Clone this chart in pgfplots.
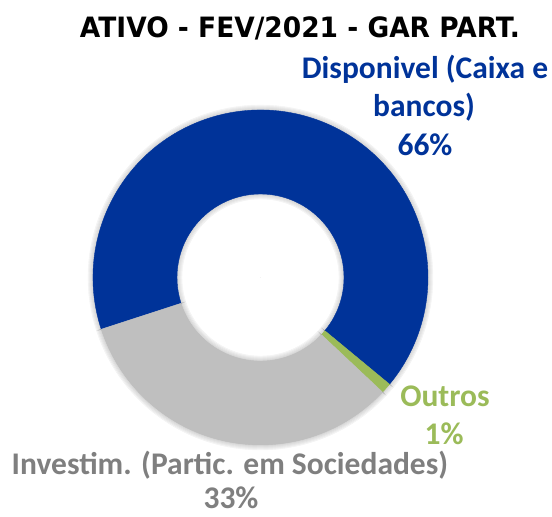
\documentclass[border=0pt]{standalone}
\usepackage{pgfplots}
\pgfplotsset{compat=1.18}
\usepackage{pgfplotstable}
\usepackage{fontspec}
\setmainfont{Carlito}
\newfontfamily\titlefont{DejaVu Sans}
\definecolor{cdisp}{RGB}{0,51,153}
\definecolor{coutros}{RGB}{155,187,89}
\definecolor{cinv}{RGB}{191,191,191}
\definecolor{tinv}{RGB}{127,127,127}

% slices in clockwise order, start = cumulative percent
\pgfplotstableread{
slice cx cy start val
0 260.5 239.5 0  66
1 260.5 239.5 66 1
2 260.5 239.5 67 33
}\ativo

\tikzset{lbl/.style={anchor=base, font=\bfseries\fontsize{31.5}{38}\selectfont}}

\begin{document}
\begin{tikzpicture}
\begin{axis}[
  width=552pt, height=517pt, scale only axis,
  xmin=0, xmax=552, ymin=0, ymax=517,
  hide axis, clip=false,
  colormap={ativo}{rgb255=(0,51,153) rgb255=(155,187,89) rgb255=(191,191,191)},
  point meta min=0, point meta max=2,
]
\path (axis cs:0,0) rectangle (axis cs:552,517);

\addplot[scatter, only marks, mark=*, mark size=0pt,
  point meta=\thisrow{slice},
  visualization depends on={\thisrow{start} \as \vstart},
  visualization depends on={\thisrow{val} \as \vval},
  scatter/@pre marker code/.code={%
    \pgfplotscolormapdefinemappedcolor{\pgfplotspointmetatransformed}%
    \pgfmathsetmacro\angA{198-3.6*\vstart}%
    \pgfmathsetmacro\angB{198-3.6*(\vstart+\vval)}%
    % soft shadow, outside and in the hole
    \foreach \k in {1,...,5} {%
      \pgfmathsetmacro\ro{167.5+\k}%
      \pgfmathsetmacro\ri{83.5-\k}%
      \fill[black, opacity=0.03] (\angA:\ro pt) arc[start angle=\angA, end angle=\angB, radius=\ro pt]
        -- (\angB:167pt) arc[start angle=\angB, end angle=\angA, radius=167pt] -- cycle;
      \fill[black, opacity=0.03] (\angA:84pt) arc[start angle=\angA, end angle=\angB, radius=84pt]
        -- (\angB:\ri pt) arc[start angle=\angB, end angle=\angA, radius=\ri pt] -- cycle;
    }%
    \fill[mapped color] (\angA:167.5pt) arc[start angle=\angA, end angle=\angB, radius=167.5pt]
      -- (\angB:83.5pt) arc[start angle=\angB, end angle=\angA, radius=83.5pt] -- cycle;
    \pgfscope
  },
  scatter/@post marker code/.code={\endpgfscope},
] table[x=cx, y=cy] {\ativo};

\node[anchor=base, font=\titlefont\bfseries\fontsize{28}{32}\selectfont] at (axis cs:300,479) {\scalebox{0.945}[1]{ATIVO - FEV/2021 - GAR PART.}};

\node[lbl, text=cdisp] at (axis cs:425,438) {Disponivel (Caixa e};
\node[lbl, text=cdisp] at (axis cs:424,400) {bancos)};
\node[lbl, text=cdisp] at (axis cs:425,361) {66\%};

\node[lbl, text=coutros] at (axis cs:445,110) {Outros};
\node[lbl, text=coutros] at (axis cs:444,72) {1\%};

\node[lbl, text=tinv] at (axis cs:230,42) {Investim. (Partic. em Sociedades)};
\node[lbl, text=tinv] at (axis cs:231,8) {33\%};
\end{axis}
\end{tikzpicture}
\end{document}
